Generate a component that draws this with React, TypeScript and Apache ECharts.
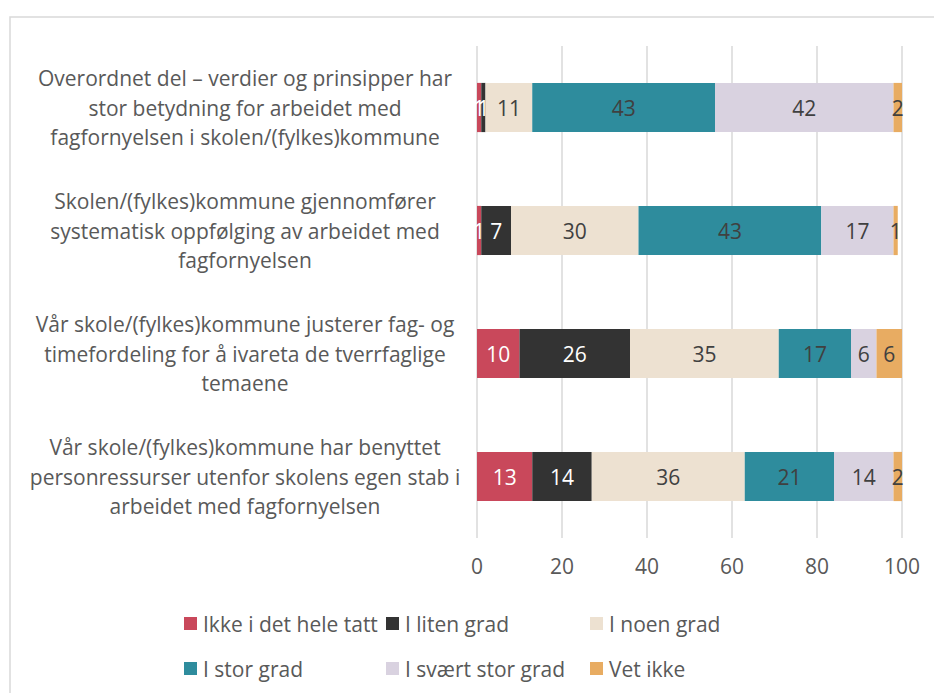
import React, { useEffect, useRef } from "react";
import * as echarts from "echarts";

const categories = [
  "Overordnet del – verdier og prinsipper har\nstor betydning for arbeidet med\nfagfornyelsen i skolen/(fylkes)kommune",
  "Skolen/(fylkes)kommune gjennomfører\nsystematisk oppfølging av arbeidet med\nfagfornyelsen",
  "Vår skole/(fylkes)kommune justerer fag- og\ntimefordeling for å ivareta de tverrfaglige\ntemaene",
  "Vår skole/(fylkes)kommune har benyttet\npersonressurser utenfor skolens egen stab i\narbeidet med fagfornyelsen",
];

const seriesNames = [
  "Ikke i det hele tatt",
  "I liten grad",
  "I noen grad",
  "I stor grad",
  "I svært stor grad",
  "Vet ikke",
];

const ikkeIDetHeleTatt = [1, 1, 10, 13];
const iLitenGrad = [1, 7, 26, 14];
const iNoenGrad = [11, 30, 35, 36];
const iStorGrad = [43, 43, 17, 21];
const iSvaertStorGrad = [42, 17, 6, 14];
const vetIkke = [2, 1, 6, 2];

const seriesValues = [ikkeIDetHeleTatt, iLitenGrad, iNoenGrad, iStorGrad, iSvaertStorGrad, vetIkke];
const colors = ["#C9485B", "#333333", "#EDE1D1", "#2E8C9D", "#D9D2E0", "#E8AC62"];
const labelColors = ["#FFFFFF", "#FFFFFF", "#404040", "#404040", "#404040", "#404040"];

const xTicks = [0, 20, 40, 60, 80, 100];

const legendPos = [
  { left: 184, top: 613 },
  { left: 386, top: 613 },
  { left: 590, top: 613 },
  { left: 184, top: 658 },
  { left: 386, top: 658 },
  { left: 590, top: 658 },
];

const FONT = "'Open Sans', 'Noto Sans', sans-serif";
const FS = 21;

export default function App() {
  const ref = useRef<HTMLDivElement>(null);
  useEffect(() => {
    if (!ref.current) return;
    const chart = echarts.init(ref.current, null, { renderer: "svg" });
    chart.setOption({
      animation: false,
      backgroundColor: "#FFFFFF",
      textStyle: { fontFamily: FONT },
      graphic: [
        {
          type: "rect",
          shape: { x: 10, y: 17, width: 1000, height: 1000 },
          style: { fill: "none", stroke: "#D9D9D9", lineWidth: 1.5 },
          silent: true,
        },
      ],
      grid: { left: 477, right: 32, top: 46, bottom: 155, containLabel: false },
      xAxis: {
        type: "value",
        min: 0,
        max: 100,
        interval: 20,
        axisLine: { show: false },
        axisTick: { show: false },
        splitLine: { show: true, lineStyle: { color: "#D9D9D9", width: 1.5 } },
        axisLabel: {
          color: "#595959",
          fontSize: FS,
          fontFamily: FONT,
          margin: 17,
          formatter: (v: number) => (xTicks.includes(v) ? String(v) : ""),
        },
      },
      yAxis: {
        type: "category",
        data: categories,
        inverse: true,
        axisLine: { show: false },
        axisTick: { show: false },
        axisLabel: {
          color: "#595959",
          fontSize: FS,
          fontFamily: FONT,
          align: "center",
          margin: 232,
          lineHeight: 29.5,
        },
      },
      legend: seriesNames.map((name, i) => ({
        data: [name],
        left: legendPos[i].left,
        top: legendPos[i].top,
        padding: 0,
        itemWidth: 13,
        itemHeight: 13,
        itemGap: 6,
        icon: "rect",
        selectedMode: false,
        textStyle: { color: "#595959", fontSize: FS, fontFamily: FONT, padding: [0, 0, 0, 1] },
      })),
      series: seriesNames.map((name, i) => ({
        name,
        type: "bar",
        stack: "total",
        barWidth: "40%",
        data: seriesValues[i],
        itemStyle: { color: colors[i] },
        label: {
          show: true,
          position: "inside",
          color: labelColors[i],
          fontSize: FS,
          fontFamily: FONT,
        },
      })),
    });
    return () => chart.dispose();
  }, []);
  return (
    <div
      ref={ref}
      style={{ position: "fixed", left: 0, top: 0, width: 934, height: 693 }}
    />
  );
}
